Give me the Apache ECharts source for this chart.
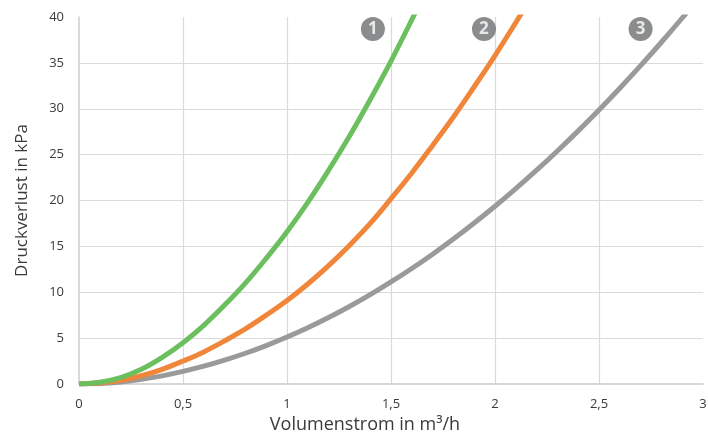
<!DOCTYPE html>
<html>
<head>
<meta charset="utf-8">
<script src="https://cdn.jsdelivr.net/npm/echarts@6/dist/echarts.min.js"></script>
<style>
html,body{margin:0;padding:0;background:#fff;overflow:hidden;}
#chart{width:708px;height:433px;}
</style>
</head>
<body>
<div id="chart"></div>
<script>
// Values
const xValues = [0, 0.1, 0.2, 0.3, 0.4, 0.5, 0.6, 0.7, 0.8, 0.9, 1.0, 1.1, 1.2, 1.3, 1.4, 1.5, 1.6, 1.7, 1.8, 1.9, 2.0, 2.1, 2.2, 2.3, 2.4, 2.5, 2.6, 2.7, 2.8, 2.9, 3.0];
const curve1 = [0, 0.2, 0.7, 1.6, 2.9, 4.5, 6.4, 8.6, 11.0, 13.7, 16.6, 19.8, 23.3, 27.0, 31.0, 35.2, 39.7, 44.4];
const curve2 = [0, 0.1, 0.4, 0.9, 1.6, 2.5, 3.5, 4.7, 6.0, 7.5, 9.1, 10.9, 12.9, 15.1, 17.5, 20.2, 23.0, 26.0, 29.1, 32.4, 35.8, 39.4, 43.1];
const curve3 = [0, 0.06, 0.23, 0.51, 0.89, 1.37, 1.94, 2.6, 3.35, 4.19, 5.12, 6.14, 7.25, 8.45, 9.74, 11.12, 12.59, 14.15, 15.8, 17.54, 19.37, 21.29, 23.3, 25.4, 27.59, 29.87, 32.24, 34.7, 37.25, 39.89, 42.62];
const badges = [
  { label: '1', x: 1.413, y: 38.7 },
  { label: '2', x: 1.947, y: 38.7 },
  { label: '3', x: 2.70, y: 38.7 }
];
const xTicks = [0, 0.5, 1, 1.5, 2, 2.5, 3];
const yTicks = [0, 5, 10, 15, 20, 25, 30, 35, 40];
const xTitle = 'Volumenstrom in m³/h';
const yTitle = 'Druckverlust in kPa';
const colors = ['#6cbf5e', '#f0863a', '#9a9a9a'];

const pair = arr => arr.map((v, i) => [xValues[i], v]);
const font = '"Open Sans", "Noto Sans", sans-serif';

const chart = echarts.init(document.getElementById('chart'), null, { renderer: 'canvas' });
const lineSeries = [curve1, curve2, curve3].map((c, i) => ({
  type: 'line',
  data: pair(c),
  smooth: 0.4,
  showSymbol: false,
  symbol: 'none',
  clip: true,
  lineStyle: { color: colors[i], width: 5 },
  z: 3 - i
}));

chart.setOption({
  animation: false,
  grid: { left: 79, right: 5, top: 17, bottom: 49, containLabel: false, outerBoundsMode: 'none' },
  xAxis: {
    type: 'value', min: xTicks[0], max: xTicks[xTicks.length - 1], interval: 0.5,
    axisLine: { show: true, lineStyle: { color: '#cccccc', width: 1.5 } },
    axisTick: { show: false },
    splitLine: { show: true, showMinLine: false, showMaxLine: false, lineStyle: { color: '#dadada', width: 1.2 } },
    axisLabel: {
      color: '#3a3a3a', fontSize: 13, fontFamily: font, margin: 14,
      formatter: v => String(v).replace('.', ',')
    },
    name: xTitle, nameLocation: 'middle', nameGap: 24,
    nameTextStyle: { color: '#3a3a3a', fontSize: 18, fontFamily: font, padding: [0, 52, 0, 0] }
  },
  yAxis: {
    type: 'value', min: yTicks[0], max: yTicks[yTicks.length - 1], interval: 5,
    axisLine: { show: true, lineStyle: { color: '#cccccc', width: 1.5 } },
    axisTick: { show: false },
    splitLine: { show: true, showMinLine: false, showMaxLine: false, lineStyle: { color: '#dadada', width: 1.2 } },
    axisLabel: { color: '#3a3a3a', fontSize: 13, fontFamily: font, margin: 15 },
    name: yTitle, nameLocation: 'middle', nameGap: 48, nameRotate: 90,
    nameTextStyle: { color: '#3a3a3a', fontSize: 17, fontFamily: font }
  },
  series: lineSeries.concat([{
    type: 'scatter',
    data: badges.map(b => ({ value: [b.x, b.y], name: b.label })),
    symbol: 'circle',
    symbolSize: 24,
    itemStyle: { color: '#6d6f71' },
    label: {
      show: true, position: 'inside', formatter: p => p.name,
      color: '#ffffff', fontSize: 17, fontWeight: 'bold', fontFamily: font
    },
    clip: false,
    z: 5
  }])
});
</script>
</body>
</html>
